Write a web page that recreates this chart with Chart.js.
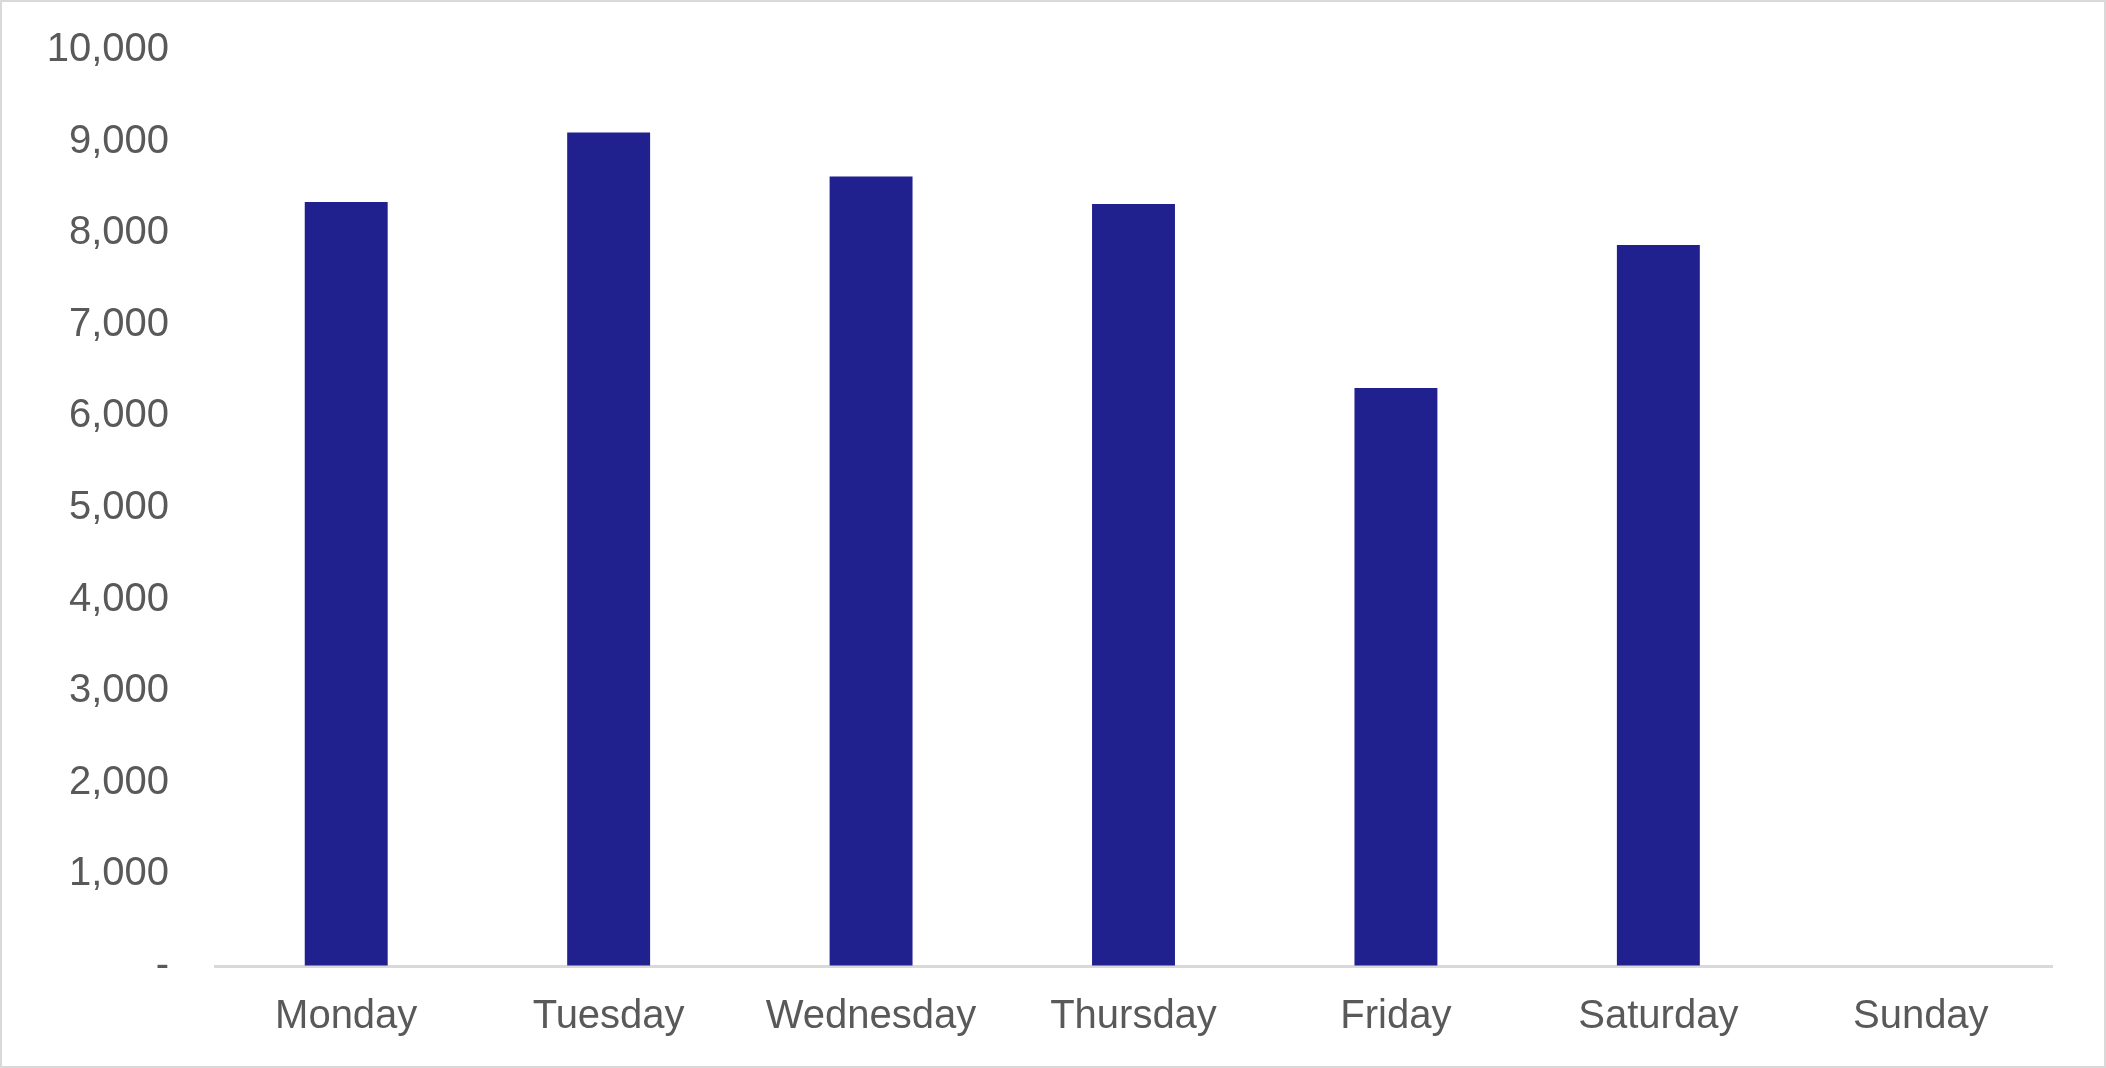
<!DOCTYPE html>
<html>
<head>
<meta charset="utf-8">
<script src="https://cdn.jsdelivr.net/npm/chart.js@4"></script>
<style>
  body { margin: 0; background: #fff; }
  #wrap { position: absolute; left: 0; top: 0; width: 2106px; height: 1068px; box-sizing: border-box; border: 2px solid #d9d9d9; background: #fff; }
</style>
</head>
<body>
<div id="wrap"><canvas id="barChart" width="2102" height="1064"></canvas></div>
<script>
var days = ['Monday', 'Tuesday', 'Wednesday', 'Thursday', 'Friday', 'Saturday', 'Sunday'];
var totals = [8340, 9100, 8620, 8320, 6310, 7870, 0];
var yMin = 0;
var yMax = 10000;
var yStep = 1000;

var ctx = document.getElementById('barChart').getContext('2d');

var myChart = new Chart(ctx, {
    type: 'bar',
    data: {
        labels: days,
        datasets: [{
            data: totals,
            backgroundColor: '#21208f',
            borderWidth: 0,
            barPercentage: 0.316,
            categoryPercentage: 1
        }]
    },
    options: {
        responsive: false,
        animation: false,
        layout: { padding: { left: 0, right: 52, top: 48, bottom: 0 } },
        plugins: {
            legend: { display: false },
            tooltip: { enabled: false }
        },
        scales: {
            x: {
                grid: { display: true, drawOnChartArea: false, drawTicks: false },
                border: { display: true, color: '#d9d9d9', width: 3 },
                ticks: {
                    color: '#595959',
                    font: { family: 'Liberation Sans, Arial', size: 40 },
                    padding: 27,
                    maxRotation: 0
                },
                afterFit: function(scale) { scale.height = 100; }
            },
            y: {
                min: yMin,
                max: yMax,
                // invisible tick marks push the labels away from the plot
                grid: { display: true, drawOnChartArea: false, drawTicks: true, tickLength: 46, color: 'rgba(0,0,0,0)' },
                border: { display: false },
                ticks: {
                    stepSize: yStep,
                    color: '#595959',
                    font: { family: 'Liberation Sans, Arial', size: 40 },
                    padding: 0,
                    callback: function(v) {
                        return v === 0 ? '-' : v.toLocaleString('en-US');
                    }
                },
                afterFit: function(scale) { scale.width = 213; }
            }
        }
    }
});
</script>
</body>
</html>
